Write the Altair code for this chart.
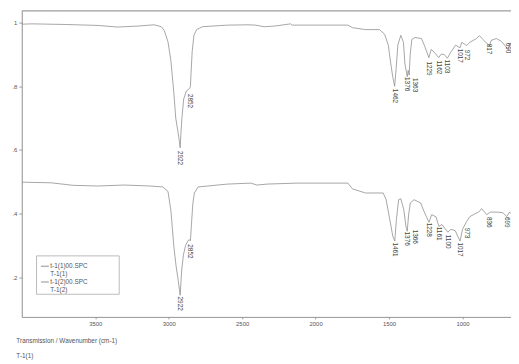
import altair as alt
import pandas as pd

# ---- spectrum 1 (upper) ----
top_wn = [4000, 3930, 3700, 3480, 3350, 3210, 3100, 3050, 3030, 3005,
          2985, 2965, 2952, 2938, 2928, 2922, 2916, 2910, 2898, 2880,
          2866, 2856, 2852, 2848, 2840, 2828, 2810, 2770, 2600, 2460,
          2410, 2350, 2280, 2170, 2160, 1970, 1780, 1750, 1660, 1565,
          1530, 1505, 1490, 1475, 1462, 1452, 1440, 1420, 1402, 1392,
          1376, 1370, 1363, 1356, 1345, 1325, 1280, 1260, 1229, 1213,
          1193, 1162, 1145, 1125, 1103, 1080, 1047, 1017, 1005, 985,
          972, 950, 905, 885, 860, 817, 805, 770, 735, 690,
          675, 670]
top_t = [0.995, 0.996, 0.994, 0.991, 0.986, 0.989, 0.993, 0.987, 0.975, 0.94,
         0.88, 0.78, 0.70, 0.66, 0.63, 0.607, 0.66, 0.70, 0.76, 0.785,
         0.79, 0.795, 0.80, 0.84, 0.91, 0.96, 0.978, 0.987, 0.992, 0.993,
         0.992, 0.987, 0.989, 0.996, 0.992, 0.992, 0.992, 0.984, 0.978, 0.978,
         0.963, 0.929, 0.876, 0.83, 0.80, 0.855, 0.93, 0.96, 0.938, 0.87,
         0.83, 0.85, 0.835, 0.90, 0.947, 0.953, 0.95, 0.929, 0.89, 0.916,
         0.907, 0.89, 0.901, 0.90, 0.888, 0.907, 0.929, 0.921, 0.938, 0.932,
         0.928, 0.938, 0.950, 0.959, 0.947, 0.926, 0.944, 0.950, 0.941, 0.916,
         0.935, 0.935]

# ---- spectrum 2 (lower) ----
bot_wn = [4000, 3800, 3650, 3480, 3300, 3130, 3040, 3005, 2985, 2965,
          2950, 2935, 2922, 2912, 2900, 2885, 2868, 2856, 2852, 2846,
          2836, 2825, 2800, 2600, 2440, 2400, 2330, 2130, 1950, 1780,
          1750, 1660, 1540, 1520, 1495, 1475, 1461, 1450, 1435, 1420,
          1400, 1385, 1376, 1370, 1366, 1355, 1330, 1285, 1262, 1228,
          1210, 1180, 1161, 1140, 1100, 1080, 1050, 1017, 1000, 973,
          950, 885, 870, 850, 836, 810, 760, 725, 699, 680,
          670]
bot_t = [0.499, 0.497, 0.489, 0.487, 0.490, 0.487, 0.484, 0.47, 0.41, 0.298,
         0.237, 0.19, 0.144, 0.22, 0.27, 0.30, 0.316, 0.318, 0.315, 0.36,
         0.43, 0.465, 0.484, 0.493, 0.496, 0.490, 0.493, 0.496, 0.496, 0.496,
         0.478, 0.465, 0.465, 0.444, 0.382, 0.33, 0.314, 0.382, 0.444, 0.447,
         0.413, 0.36, 0.345, 0.38, 0.40, 0.434, 0.444, 0.434, 0.407, 0.373,
         0.397, 0.39, 0.360, 0.366, 0.342, 0.351, 0.347, 0.314, 0.351, 0.375,
         0.391, 0.407, 0.416, 0.405, 0.397, 0.405, 0.405, 0.403, 0.391, 0.405,
         0.40]

# ---- peak labels ----
top_peak_text = ["2922", "2852", "1462", "1376", "1363", "1229", "1162", "1103", "1017", "972", "817", "690"]
top_peak_x = [2922, 2852, 1462, 1376, 1322, 1229, 1162, 1103, 1017, 972, 817, 690]
top_peak_y = [0.600, 0.779, 0.795, 0.832, 0.829, 0.881, 0.884, 0.887, 0.921, 0.918, 0.937, 0.940]

bot_peak_text = ["2922", "2852", "1461", "1376", "1366", "1228", "1161", "1100", "1017", "973", "836", "699"]
bot_peak_x = [2922, 2852, 1461, 1376, 1327, 1228, 1161, 1100, 1017, 973, 822, 699]
bot_peak_y = [0.143, 0.307, 0.313, 0.347, 0.353, 0.375, 0.362, 0.337, 0.313, 0.359, 0.393, 0.393]

legend_names = ["t-1(1)00.SPC", "T-1(1)", "t-1(2)00.SPC", "T-1(2)"]
legend_colors = ["#8f8f8f", "rgba(0,0,0,0)", "#8f8f8f", "rgba(0,0,0,0)"]

x_ticks = [3500, 3000, 2500, 2000, 1500, 1000]
y_ticks = [0.2, 0.4, 0.6, 0.8, 1.0]
y_top = [1.037]

lines_df = pd.concat([
    pd.DataFrame({"wn": top_wn, "t": top_t, "series": legend_names[0]}),
    pd.DataFrame({"wn": bot_wn, "t": bot_t, "series": legend_names[2]}),
], ignore_index=True)

labels_df = pd.concat([
    pd.DataFrame({"wn": top_peak_x, "t": top_peak_y, "label": top_peak_text}),
    pd.DataFrame({"wn": bot_peak_x, "t": bot_peak_y, "label": bot_peak_text}),
], ignore_index=True)

W, H = 497, 311
FONT = "Liberation Sans"
GREY = "#999999"

xs = alt.Scale(domain=[4000, 670], nice=False, zero=False)
ys = alt.Scale(domain=[0.076, 1.037], nice=False, zero=False)

box = alt.Chart(pd.DataFrame({"a": [0]})).mark_rect(
    fill="white", stroke="#aaaaaa", strokeWidth=0.8
).encode(x=alt.value(15), x2=alt.value(99), y=alt.value(249), y2=alt.value(288))

top_line = alt.Chart(pd.DataFrame({"t": y_top})).mark_rule(
    color=GREY, strokeWidth=1
).encode(y=alt.Y("t:Q", scale=ys))

lines = alt.Chart(lines_df).mark_line(strokeWidth=0.8, clip=True).encode(
    x=alt.X("wn:Q", scale=xs,
            axis=alt.Axis(values=x_ticks, format="d", grid=False, domainColor=GREY,
                          tickColor=GREY, tickSize=2, labelFontSize=6, labelColor="#555",
                          labelPadding=2, labelFont=FONT,
                          title=["Transmission / Wavenumber (cm-1)", "T-1(1)"],
                          titleFont=FONT, titleFontSize=6.5, titleFontWeight="normal",
                          titleColor="#555", titleAnchor="start", titleAlign="left",
                          titleBaseline="alphabetic", titleX=-6, titleY=26,
                          titleLineHeight=15)),
    y=alt.Y("t:Q", scale=ys,
            axis=alt.Axis(values=y_ticks, grid=False, domainColor=GREY, tickColor=GREY,
                          tickSize=3, labelFontSize=6, labelColor="#555", labelPadding=2,
                          labelFont=FONT, title=None,
                          labelExpr="datum.value >= 1 ? '1' : replace(format(datum.value, '.1f'), '0.', '.')")),
    color=alt.Color("series:N",
                    scale=alt.Scale(domain=legend_names, range=legend_colors),
                    legend=alt.Legend(title=None, orient="none", legendX=19, legendY=255,
                                      symbolType="stroke", symbolSize=64,
                                      symbolStrokeWidth=1, labelFontSize=6.5,
                                      labelFont=FONT, labelColor="#555",
                                      labelOffset=1, rowPadding=-4, padding=0)),
    order=alt.Order("wn:Q"),
)

labels = alt.Chart(labels_df).mark_text(
    angle=90, align="left", baseline="middle", dx=1, fontSize=6.5, font=FONT, color="#444"
).encode(
    x=alt.X("wn:Q", scale=xs),
    y=alt.Y("t:Q", scale=ys),
    text="label:N",
)

chart = alt.layer(box, top_line, lines, labels).properties(
    width=W, height=H,
    autosize=alt.AutoSizeParams(type="none"),
    padding={"left": 14, "top": 0, "right": 0, "bottom": 45},
).configure_view(stroke=None).configure(background="white", font=FONT)

chart.save("out.html", embed_options={"renderer": "svg", "actions": False})
